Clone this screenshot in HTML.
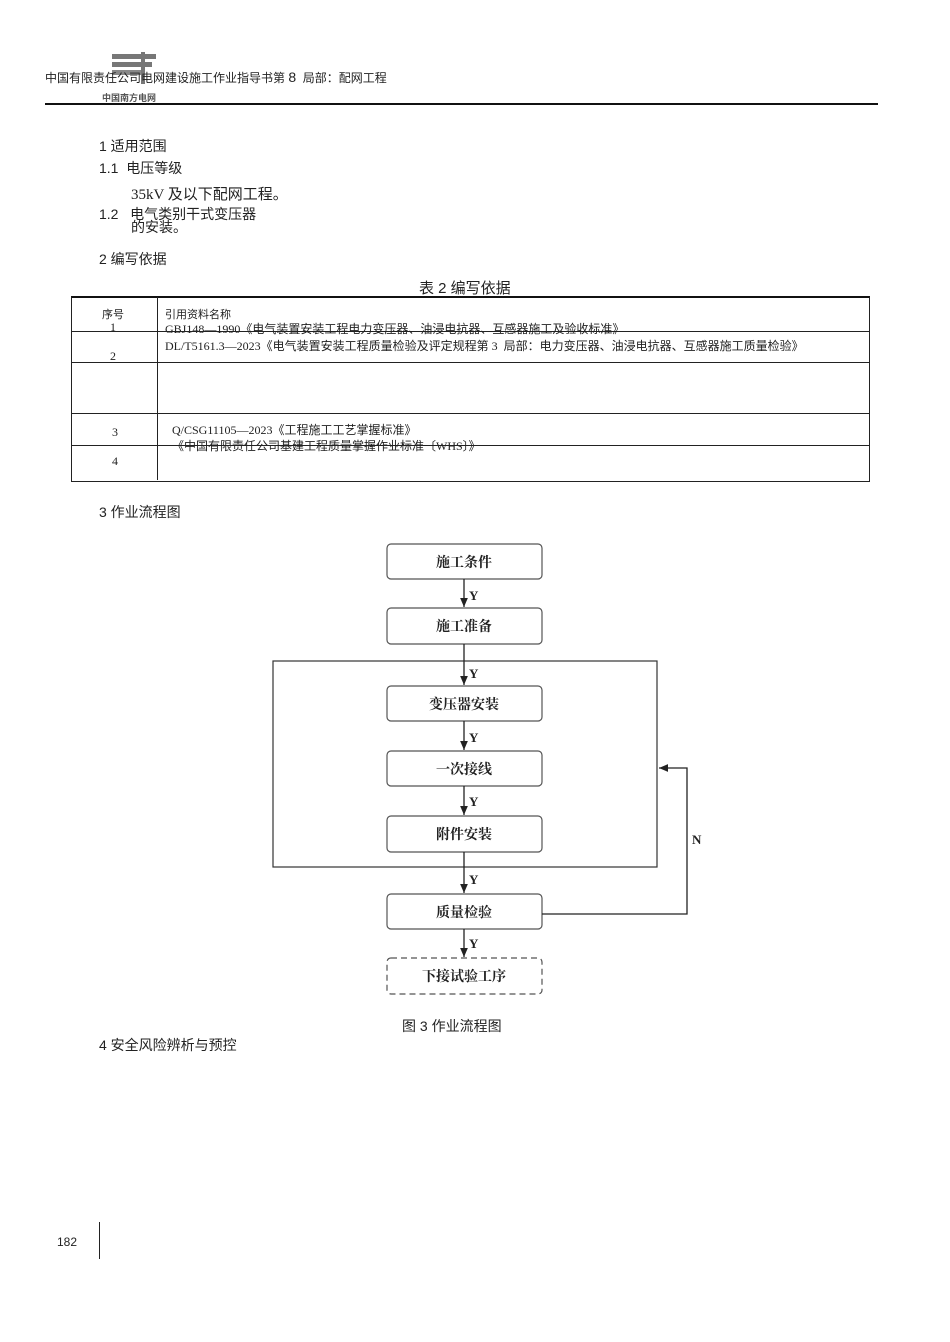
<!DOCTYPE html>
<html><head><meta charset="utf-8"><style>
body{margin:0;width:950px;height:1342px;background:#fff;position:relative;font-family:"Liberation Sans","Noto Sans CJK SC",sans-serif;color:#222;overflow:hidden}
.t{position:absolute;white-space:nowrap}
.s{font-family:"Liberation Serif","Noto Sans CJK SC",serif}
</style></head><body>
<div class="t" style="left:112px;top:54px;width:44px;height:5px;background:#777"></div>
<div class="t" style="left:112px;top:62px;width:40px;height:5px;background:#777"></div>
<div class="t" style="left:112px;top:70px;width:30px;height:5px;background:#888"></div>
<div class="t" style="left:141px;top:52px;width:4px;height:32px;background:#777"></div>
<div class="t" style="left:45px;top:69px;font-size:12px">中国有限责任公司电网建设施工作业指导书第 <span style="font-size:14px">8</span>&nbsp; 局部：配网工程</div>
<div class="t" style="left:102px;top:91px;font-size:9px;font-weight:bold;color:#555">中国南方电网</div>
<div class="t" style="left:45px;top:103px;width:833px;height:2px;background:#111"></div>

<div class="t" style="left:99px;top:136px;font-size:14px">1 适用范围</div>
<div class="t" style="left:99px;top:158px;font-size:14px">1.1&nbsp; 电压等级</div>
<div class="t s" style="left:131px;top:183px;font-size:15px">35kV 及以下配网工程。</div>
<div class="t" style="left:99px;top:204px;font-size:14px">1.2&nbsp;&nbsp; 电气类别干式变压器</div>
<div class="t" style="left:131px;top:217px;font-size:14px">的安装。</div>
<div class="t" style="left:99px;top:249px;font-size:14px">2 编写依据</div>
<div class="t" style="left:419px;top:277px;font-size:15px">表 2 编写依据</div>

<div class="t" style="left:71px;top:296px;width:797px;height:183px;border:1px solid #222;border-top:2px solid #111"></div>
<div class="t" style="left:157px;top:297px;width:1px;height:183px;background:#222"></div>
<div class="t" style="left:71px;top:331px;width:798px;height:1px;background:#222"></div>
<div class="t" style="left:71px;top:362px;width:798px;height:1px;background:#222"></div>
<div class="t" style="left:71px;top:413px;width:798px;height:1px;background:#222"></div>
<div class="t" style="left:71px;top:445px;width:798px;height:1px;background:#222"></div>
<div class="t" style="left:102px;top:306px;font-size:11px">序号</div>
<div class="t s" style="left:110px;top:320px;font-size:12px">1</div>
<div class="t s" style="left:110px;top:349px;font-size:12px">2</div>
<div class="t s" style="left:112px;top:425px;font-size:12px">3</div>
<div class="t s" style="left:112px;top:454px;font-size:12px">4</div>
<div class="t" style="left:165px;top:306px;font-size:11px">引用资料名称</div>
<div class="t s" style="left:165px;top:320px;font-size:12px">GBJ148—1990《电气装置安装工程电力变压器、油浸电抗器、互感器施工及验收标准》</div>
<div class="t s" style="left:165px;top:337px;font-size:12px">DL/T5161.3—2023《电气装置安装工程质量检验及评定规程第 3&nbsp; 局部：电力变压器、油浸电抗器、互感器施工质量检验》</div>
<div class="t s" style="left:172px;top:421px;font-size:12px">Q/CSG11105—2023《工程施工工艺掌握标准》</div>
<div class="t s" style="left:172px;top:437px;font-size:12px">《中国有限责任公司基建工程质量掌握作业标准〔WHS〕》</div>

<div class="t" style="left:99px;top:502px;font-size:14px">3 作业流程图</div>

<svg class="t" style="left:0;top:0" width="950" height="1342">
<defs><marker id="a" markerWidth="8" markerHeight="8" refX="7" refY="4" orient="auto"><path d="M0,1L7,4L0,7z" fill="#222"/></marker></defs>
<g fill="#fff" stroke="#555" stroke-width="1.2">
<rect x="387" y="544" width="155" height="35" rx="4"/>
<rect x="387" y="608" width="155" height="36" rx="4"/>
<rect x="387" y="686" width="155" height="35" rx="4"/>
<rect x="387" y="751" width="155" height="35" rx="4"/>
<rect x="387" y="816" width="155" height="36" rx="4"/>
<rect x="387" y="894" width="155" height="35" rx="4"/>
<rect x="387" y="958" width="155" height="36" rx="4" stroke-dasharray="6,4"/>
</g>
<rect x="273" y="661" width="384" height="206" fill="none" stroke="#333" stroke-width="1.2"/>
<g stroke="#222" stroke-width="1.3" fill="none">
<line x1="464" y1="579" x2="464" y2="607" marker-end="url(#a)"/>
<line x1="464" y1="644" x2="464" y2="685" marker-end="url(#a)"/>
<line x1="464" y1="721" x2="464" y2="750" marker-end="url(#a)"/>
<line x1="464" y1="786" x2="464" y2="815" marker-end="url(#a)"/>
<line x1="464" y1="852" x2="464" y2="893" marker-end="url(#a)"/>
<line x1="464" y1="929" x2="464" y2="957" marker-end="url(#a)"/>
<polyline points="542,914 687,914 687,768 659,768" marker-end="url(#a)"/>
</g>
<g font-family="Liberation Serif,serif" font-weight="bold" font-size="13" fill="#222">
<text x="469" y="600">Y</text><text x="469" y="678">Y</text><text x="469" y="742">Y</text><text x="469" y="806">Y</text><text x="469" y="884">Y</text><text x="469" y="948">Y</text><text x="692" y="844">N</text>
</g>
<g font-family="Noto Serif CJK SC,Noto Sans CJK SC,serif" font-weight="bold" font-size="14" fill="#222" text-anchor="middle">
<text x="464" y="567">施工条件</text><text x="464" y="631">施工准备</text><text x="464" y="709">变压器安装</text><text x="464" y="774">一次接线</text><text x="464" y="839">附件安装</text><text x="464" y="917">质量检验</text><text x="464" y="981">下接试验工序</text>
</g>
</svg>
<div class="t" style="left:402px;top:1016px;font-size:14px">图 3 作业流程图</div>
<div class="t" style="left:99px;top:1035px;font-size:14px">4 安全风险辨析与预控</div>
<div class="t" style="left:57px;top:1235px;font-size:12px">182</div>
<div class="t" style="left:99px;top:1222px;width:1px;height:37px;background:#222"></div>
</body></html>
